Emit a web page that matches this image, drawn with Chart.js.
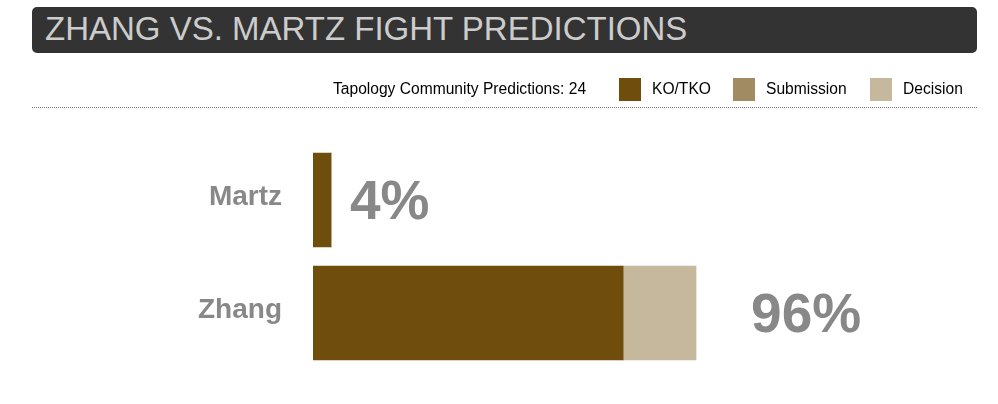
<!DOCTYPE html>
<html>
<head>
<meta charset="utf-8">
<script src="https://cdn.jsdelivr.net/npm/chart.js@4/dist/chart.umd.min.js"></script>
<style>
  body { margin: 0; background: #fff; font-family: "Liberation Sans", Arial, sans-serif; }
  #wrap { position: relative; width: 998px; height: 404px; overflow: hidden; }
  #chart { position: absolute; left: 0; top: 0; }
  #title { position: absolute; left: 32px; top: 7px; width: 945px; height: 46px; background: #333333;
           border-radius: 5px; color: #cccccc; font-size: 33px; line-height: 44px; padding-left: 13px;
           box-sizing: border-box; white-space: nowrap; }
  .lg { position: absolute; top: 81px; font-size: 15.6px; line-height: 16px; color: #000; white-space: nowrap; }
  .sw { position: absolute; top: 78px; width: 22px; height: 23px; }
  #rule { position: absolute; left: 32px; top: 107px; width: 945px; height: 0; border-top: 1px dotted #808080; }
</style>
</head>
<body>
<div id="wrap">
  <canvas id="chart" width="998" height="404"></canvas>
  <div id="title"></div>
  <div id="legend"></div>
  <div id="rule"></div>
</div>
<script>
// ---- data ----
const titleText = "ZHANG VS. MARTZ FIGHT PREDICTIONS";
const predictionsLabel = "Tapology Community Predictions: 24";
const categories = ["Martz", "Zhang"];
const seriesNames = ["KO/TKO", "Submission", "Decision"];
const koTko = [4.5, 77.7];
const submission = [0, 0];
const decision = [0, 18.3];
const percentLabels = ["4%", "96%"];

// ---- styles / layout ----
const seriesColors = ["#6f4d0d", "#a18b62", "#c6b89d"];
const swatchLeft = [619, 733, 870];
const legendTextLeft = [652, 766, 903];
const countLeft = 333;
const pctGap = [19, 55];
const fontFam = '"Liberation Sans", Arial, sans-serif';

document.getElementById("title").textContent = titleText;
const lg = document.getElementById("legend");
const cnt = document.createElement("span");
cnt.className = "lg"; cnt.style.left = countLeft + "px"; cnt.textContent = predictionsLabel;
lg.appendChild(cnt);
seriesNames.forEach((n, i) => {
  const sw = document.createElement("div");
  sw.className = "sw"; sw.style.left = swatchLeft[i] + "px"; sw.style.background = seriesColors[i];
  lg.appendChild(sw);
  const t = document.createElement("span");
  t.className = "lg"; t.style.left = legendTextLeft[i] + "px"; t.textContent = n;
  lg.appendChild(t);
});

const pctPlugin = {
  id: "pctLabels",
  afterDatasetsDraw(chart) {
    const ctx = chart.ctx;
    const xs = chart.scales.x, ys = chart.scales.y;
    ctx.save();
    ctx.font = "bold 55px " + fontFam;
    ctx.fillStyle = "#888888";
    ctx.textAlign = "left";
    ctx.textBaseline = "alphabetic";
    categories.forEach((c, i) => {
      const total = koTko[i] + submission[i] + decision[i];
      const x = xs.getPixelForValue(total) + pctGap[i];
      const y = ys.getPixelForValue(i) + 18.5;
      ctx.fillText(percentLabels[i], x, y);
    });
    ctx.restore();
  }
};

new Chart(document.getElementById("chart"), {
  type: "bar",
  data: {
    labels: categories,
    datasets: [
      { label: seriesNames[0], data: koTko, backgroundColor: seriesColors[0] },
      { label: seriesNames[1], data: submission, backgroundColor: seriesColors[1] },
      { label: seriesNames[2], data: decision, backgroundColor: seriesColors[2] }
    ]
  },
  options: {
    indexAxis: "y",
    responsive: false,
    animation: false,
    devicePixelRatio: 1,
    layout: { padding: { left: 0, right: 286, top: 143.5, bottom: 34.5 } },
    datasets: { bar: { barThickness: 94, borderWidth: 0 } },
    plugins: { legend: { display: false }, tooltip: { enabled: false }, title: { display: false } },
    scales: {
      x: { stacked: true, min: 0, max: 100, display: false },
      y: {
        stacked: true,
        grid: { display: false, drawTicks: false },
        border: { display: false },
        ticks: { color: "#888888", font: { family: fontFam, size: 28, weight: "bold" }, padding: 31, labelOffset: -3 },
        afterFit(scale) { scale.width = 313; scale.paddingTop = 0; scale.paddingBottom = 0; }
      }
    }
  },
  plugins: [pctPlugin]
});
</script>
</body>
</html>
